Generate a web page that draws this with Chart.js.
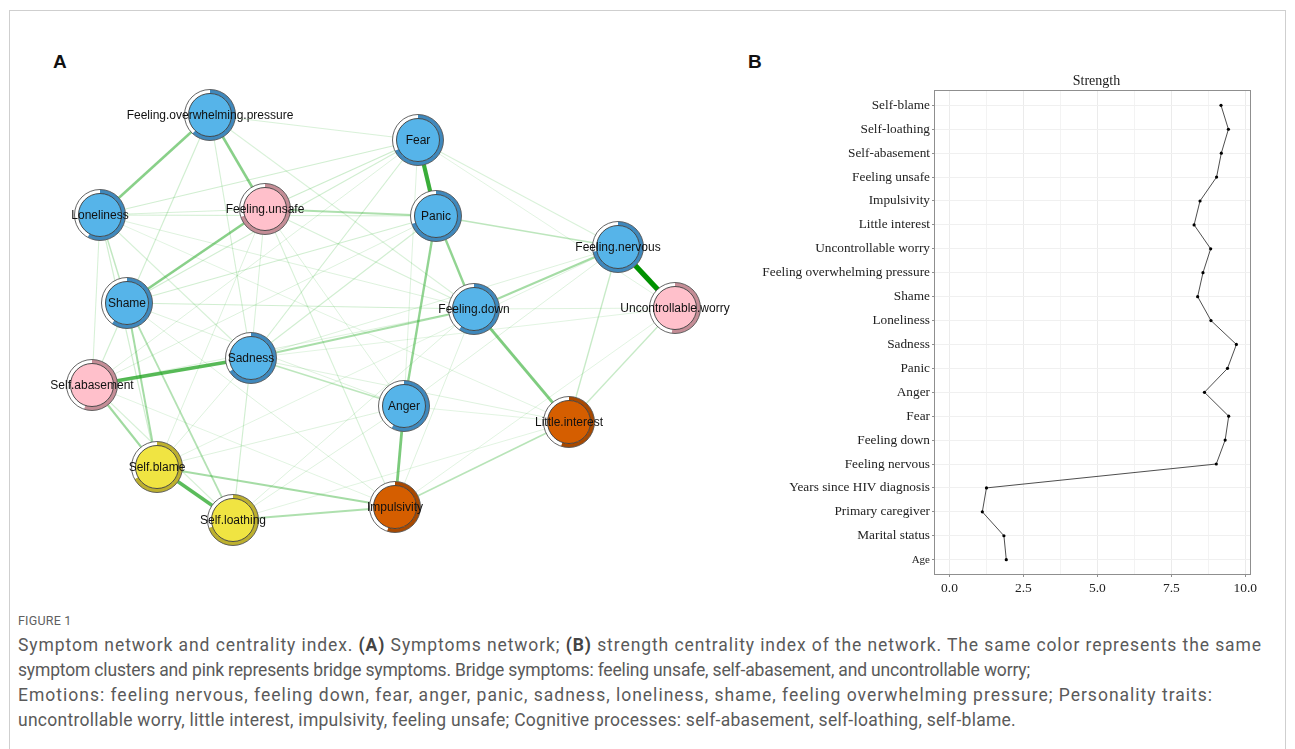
<!DOCTYPE html>
<html>
<head>
<meta charset="utf-8">
<script src="https://cdn.jsdelivr.net/npm/chart.js@4"></script>
<style>
  html, body { margin: 0; padding: 0; background: #fff; }
  body { width: 1295px; height: 749px; position: relative; overflow: hidden; font-family: "Liberation Sans", Arial, sans-serif; }
  .frame { position: absolute; left: 9px; top: 10px; width: 1277px; height: 760px; border: 1px solid #cfcfcf; border-bottom: none; box-sizing: border-box; }
  .panel-tag { position: absolute; font: bold 19px "Liberation Sans", Arial, sans-serif; color: #111; }
  #netWrap { position: absolute; left: 30px; top: 70px; width: 720px; height: 500px; }
  #strWrap { position: absolute; left: 760px; top: 70px; width: 510px; height: 530px; }
  .fig-head { position: absolute; left: 18px; top: 613px; font: 12.5px Roboto, sans-serif; color: #5f5f5f; letter-spacing: 0.2px; }
  .caption { position: absolute; left: 18px; top: 633px; font: 17.5px/25px Roboto, sans-serif; color: #5a5a5a; }
  .caption span { display: block; white-space: nowrap; }
  .caption b { color: #444; }
</style>
</head>
<body>
<div class="frame"></div>
<div class="panel-tag" style="left:53px; top:51px;">A</div>
<div class="panel-tag" style="left:748px; top:51px;">B</div>
<div id="netWrap"><canvas id="net" width="720" height="500"></canvas></div>
<div id="strWrap"><canvas id="str" width="510" height="530"></canvas></div>
<div class="fig-head">FIGURE 1</div>
<div class="caption" id="caption">
<span data-w="1244">Symptom network and centrality index. <b>(A)</b> Symptoms network; <b>(B)</b> strength centrality index of the network. The same color represents the same</span>
<span data-w="1012">symptom clusters and pink represents bridge symptoms. Bridge symptoms: feeling unsafe, self-abasement, and uncontrollable worry;</span>
<span data-w="1195">Emotions: feeling nervous, feeling down, fear, anger, panic, sadness, loneliness, shame, feeling overwhelming pressure; Personality traits:</span>
<span data-w="998">uncontrollable worry, little interest, impulsivity, feeling unsafe; Cognitive processes: self-abasement, self-loathing, self-blame.</span>
</div>

<script>
// stretch each caption line to its set width
document.querySelectorAll('#caption span').forEach(s => {
  s.style.display = 'inline-block';
  const w = s.getBoundingClientRect().width;
  const n = s.textContent.length;
  s.style.letterSpacing = ((+s.dataset.w - w) / n) + 'px';
  s.style.display = 'block';
});

// ---------- Panel A: symptom network ----------
const nodeNames = ['Feeling.overwhelming.pressure','Loneliness','Feeling.unsafe','Fear','Panic','Feeling.nervous',
  'Feeling.down','Uncontrollable.worry','Shame','Sadness','Self.abasement','Self.blame','Self.loathing',
  'Anger','Little.interest','Impulsivity'];
// layout coordinates of the nodes
const nodeX = [180, 70, 235, 388, 406, 588, 444, 645, 97, 221, 62, 127, 203, 374, 539, 365];
const nodeY = [45, 145, 139, 70, 146, 177, 239, 238, 233, 288, 315, 397, 450, 336, 352, 437];
// cluster of each node
const nodeGroup = ['emo','emo','bridge','emo','emo','emo','emo','bridge','emo','emo','bridge','cog','cog','emo','pers','pers'];
// predictability shown as the ring around each node
const nodePred = [0.62, 0.58, 0.70, 0.68, 0.70, 0.72, 0.60, 0.52, 0.60, 0.66, 0.55, 0.67, 0.70, 0.58, 0.55, 0.55];

// edges: from, to, weight
const edgeFrom = ['Feeling.nervous','Fear','Sadness','Self.blame','Anger','Feeling.down','Feeling.overwhelming.pressure',
  'Feeling.overwhelming.pressure','Feeling.unsafe','Panic','Panic','Self.abasement','Shame','Self.blame','Feeling.down',
  'Sadness','Shame','Self.loathing','Feeling.unsafe','Impulsivity','Panic','Sadness','Loneliness','Little.interest',
  'Little.interest','Fear','Fear','Fear','Loneliness','Feeling.overwhelming.pressure','Feeling.overwhelming.pressure',
  'Feeling.overwhelming.pressure','Feeling.overwhelming.pressure','Loneliness','Loneliness','Loneliness','Loneliness',
  'Feeling.unsafe','Feeling.unsafe','Feeling.unsafe','Feeling.unsafe','Fear','Fear','Fear','Fear','Panic','Panic','Panic',
  'Shame','Shame','Shame','Self.abasement','Self.abasement','Self.abasement','Sadness','Sadness','Sadness','Anger','Anger',
  'Anger','Anger','Feeling.down','Feeling.down','Feeling.down','Feeling.nervous','Feeling.nervous','Uncontrollable.worry',
  'Uncontrollable.worry','Little.interest','Little.interest','Loneliness','Feeling.unsafe','Fear'];
const edgeTo = ['Uncontrollable.worry','Panic','Self.abasement','Self.loathing','Impulsivity','Little.interest','Loneliness',
  'Feeling.unsafe','Shame','Feeling.down','Anger','Self.blame','Self.blame','Impulsivity','Feeling.nervous',
  'Feeling.down','Self.loathing','Impulsivity','Panic','Little.interest','Feeling.nervous','Anger','Shame','Feeling.nervous',
  'Uncontrollable.worry','Loneliness','Feeling.unsafe','Shame','Panic','Self.abasement','Fear',
  'Sadness','Feeling.down','Self.blame','Self.abasement','Sadness','Feeling.down',
  'Feeling.down','Impulsivity','Anger','Self.blame','Sadness','Self.abasement','Feeling.nervous','Uncontrollable.worry','Sadness','Shame','Self.abasement',
  'Feeling.down','Anger','Impulsivity','Self.loathing','Feeling.down','Impulsivity','Self.loathing','Little.interest','Self.blame','Self.blame','Feeling.nervous',
  'Little.interest','Self.loathing','Self.loathing','Impulsivity','Uncontrollable.worry','Sadness','Self.blame','Impulsivity',
  'Sadness','Self.loathing','Loneliness','Feeling.unsafe','Sadness','Anger'];
const edgeWeight = [1.0, 0.75, 0.62, 0.6, 0.46, 0.44, 0.4,
  0.4, 0.4, 0.36, 0.36, 0.3, 0.28, 0.28, 0.28,
  0.26, 0.22, 0.24, 0.24, 0.2, 0.18, 0.18, 0.16, 0.14,
  0.14, 0.1, 0.12, 0.1, 0.1, 0.1, 0.07,
  0.09, 0.07, 0.1, 0.08, 0.08, 0.06,
  0.08, 0.08, 0.06, 0.06, 0.1, 0.06, 0.07, 0.05, 0.1, 0.1, 0.06,
  0.1, 0.06, 0.06, 0.08, 0.06, 0.05, 0.1, 0.06, 0.06, 0.06, 0.06,
  0.05, 0.06, 0.06, 0.06, 0.06, 0.06, 0.05, 0.05,
  0.05, 0.05, 0.05, 0.08, 0.07, 0.06];

const groupFill = { emo: '#56B4E9', bridge: '#FFC0CB', cog: '#F0E442', pers: '#D55E00' };
const groupRing = { emo: '#3F88BC', bridge: '#C48D96', cog: '#BDB02E', pers: '#A84900' };

function nodePoint(name) {
  const i = nodeNames.indexOf(name);
  return { x: nodeX[i], y: nodeY[i] };
}

const edgeSets = edgeFrom.map((f, k) => {
  const w = edgeWeight[k];
  const alpha = Math.min(1, 0.06 + 0.94 * Math.pow(w, 0.8));
  const g = Math.round(175 - 30 * w);
  return {
    type: 'line',
    data: [nodePoint(f), nodePoint(edgeTo[k])],
    showLine: true,
    pointRadius: 0,
    borderColor: `rgba(${Math.round(40 - 40 * w)},${g},${Math.round(40 - 40 * w)},${alpha})`,
    borderWidth: 0.7 + 4.6 * w,
    order: 1 + Math.round((1 - w) * 1000),
    clip: false
  };
});

const nodeSet = {
  type: 'scatter',
  data: nodeNames.map((n, i) => ({ x: nodeX[i], y: nodeY[i] })),
  pointRadius: 21.5,
  pointBackgroundColor: nodeGroup.map(g => groupFill[g]),
  pointBorderColor: '#3a3a3a',
  pointBorderWidth: 0.9,
  order: 0,
  clip: false
};

// ring with predictability arc drawn beneath each node, names on top
const ringPlugin = {
  id: 'ring',
  beforeDatasetDraw(chart, args) {
    if (args.meta.type !== 'scatter') return;
    const ctx = chart.ctx;
    args.meta.data.forEach((pt, i) => {
      const R = 25.5, r = 21.5;
      ctx.save();
      ctx.beginPath();
      ctx.arc(pt.x, pt.y, R, 0, Math.PI * 2);
      ctx.fillStyle = '#ffffff';
      ctx.fill();
      const a0 = -Math.PI / 2, a1 = a0 + nodePred[i] * Math.PI * 2;
      ctx.beginPath();
      ctx.arc(pt.x, pt.y, R, a0, a1);
      ctx.arc(pt.x, pt.y, r, a1, a0, true);
      ctx.closePath();
      ctx.fillStyle = groupRing[nodeGroup[i]];
      ctx.fill();
      ctx.beginPath();
      ctx.arc(pt.x, pt.y, R, 0, Math.PI * 2);
      ctx.lineWidth = 0.9;
      ctx.strokeStyle = '#555';
      ctx.stroke();
      ctx.restore();
    });
  },
  afterDatasetsDraw(chart) {
    const meta = chart.getDatasetMeta(chart.data.datasets.length - 1);
    const ctx = chart.ctx;
    ctx.save();
    ctx.font = '12px "Liberation Sans", Arial, sans-serif';
    ctx.fillStyle = '#111';
    ctx.textAlign = 'center';
    ctx.textBaseline = 'middle';
    meta.data.forEach((pt, i) => ctx.fillText(nodeNames[i], pt.x, pt.y + 1));
    ctx.restore();
  }
};

new Chart(document.getElementById('net'), {
  type: 'scatter',
  data: { datasets: [...edgeSets, nodeSet] },
  options: {
    responsive: false,
    animation: false,
    events: [],
    layout: { padding: 0, autoPadding: false },
    plugins: { legend: { display: false }, tooltip: { enabled: false } },
    scales: {
      x: { type: 'linear', min: 0, max: 720, display: false },
      y: { type: 'linear', min: 0, max: 500, reverse: true, display: false }
    }
  },
  plugins: [ringPlugin]
});

// ---------- Panel B: strength centrality ----------
const strengthLabels = ['Self-blame','Self-loathing','Self-abasement','Feeling unsafe','Impulsivity','Little interest',
  'Uncontrollable worry','Feeling overwhelming pressure','Shame','Loneliness','Sadness','Panic','Anger','Fear',
  'Feeling down','Feeling nervous','Years since HIV diagnosis','Primary caregiver','Marital status','Age'];
const strengthValues = [9.18, 9.43, 9.19, 9.03, 8.47, 8.27, 8.83, 8.57, 8.39, 8.84, 9.70, 9.40, 8.62, 9.44,
  9.32, 9.02, 1.25, 1.11, 1.84, 1.92];
const strengthTicks = [0, 2.5, 5, 7.5, 10];
const gridSteps = [0, 1.25, 2.5, 3.75, 5, 6.25, 7.5, 8.75, 10];

const serif = '"Liberation Serif", "Times New Roman", serif';

const panelBox = {
  id: 'panelBox',
  beforeDatasetsDraw(chart) {
    const a = chart.chartArea, ctx = chart.ctx;
    ctx.save();
    ctx.strokeStyle = '#8f8f8f';
    ctx.lineWidth = 1;
    ctx.strokeRect(Math.round(a.left) - 0.5, Math.round(a.top) - 0.5, Math.round(a.right - a.left) + 1, Math.round(a.bottom - a.top) + 1);
    ctx.restore();
  },
  afterDraw(chart) {
    const a = chart.chartArea, ctx = chart.ctx;
    ctx.save();
    ctx.font = '14px ' + serif;
    ctx.fillStyle = '#1a1a1a';
    ctx.textAlign = 'center';
    ctx.textBaseline = 'middle';
    ctx.fillText('Strength', (a.left + a.right) / 2 + 4, a.top - 10);
    ctx.restore();
  }
};

new Chart(document.getElementById('str'), {
  type: 'scatter',
  data: {
    datasets: [{
      data: strengthValues.map((v, i) => ({ x: v, y: i + 1 })),
      showLine: true,
      borderColor: '#3a3a3a',
      borderWidth: 0.9,
      pointRadius: 1.6,
      pointBackgroundColor: '#000',
      pointBorderWidth: 0,
      clip: false
    }]
  },
  options: {
    responsive: false,
    animation: false,
    events: [],
    layout: { padding: { top: 21, right: 20, left: 0, bottom: 0 }, autoPadding: false },
    plugins: { legend: { display: false }, tooltip: { enabled: false } },
    scales: {
      x: {
        type: 'linear', min: -0.49, max: 10.16,
        afterBuildTicks(scale) { scale.ticks = gridSteps.map(v => ({ value: v })); },
        afterFit(scale) { scale.height = 26; },
        border: { display: false },
        grid: {
          color: ctx => strengthTicks.includes(ctx.tick && ctx.tick.value) ? '#ebebeb' : '#f3f3f3',
          lineWidth: 1,
          tickLength: 3,
          tickColor: ctx => strengthTicks.includes(ctx.tick && ctx.tick.value) ? '#8f8f8f' : 'rgba(0,0,0,0)'
        },
        ticks: {
          autoSkip: false, maxRotation: 0, padding: 3,
          color: '#222',
          font: { family: serif, size: 13.5 },
          callback: v => strengthTicks.includes(v) ? v.toFixed(1) : ''
        }
      },
      y: {
        type: 'linear', min: 0.4, max: strengthLabels.length + 0.6, reverse: true,
        afterBuildTicks(scale) { scale.ticks = strengthLabels.map((l, i) => ({ value: i + 1 })); },
        afterFit(scale) { scale.width = 175; },
        border: { display: false },
        grid: { color: '#f0f0f0', lineWidth: 1, tickLength: 3, tickColor: '#8f8f8f' },
        ticks: {
          autoSkip: false, padding: 2,
          color: '#222',
          font: ctx => ({ family: serif, size: (ctx.tick && ctx.tick.value === strengthLabels.length) ? 11 : 13.3 }),
          callback: v => strengthLabels[v - 1]
        }
      }
    }
  },
  plugins: [panelBox]
});
</script>
</body>
</html>
